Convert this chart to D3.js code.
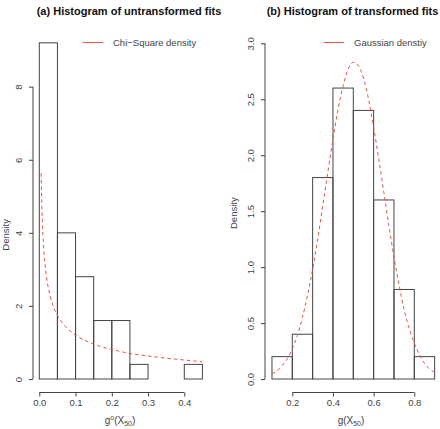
<!DOCTYPE html>
<html>
<head>
<meta charset="utf-8">
<script src="https://cdn.jsdelivr.net/npm/d3@7"></script>
<style>
  body { margin: 0; background: #fff; }
  text { font-family: "Liberation Sans", Arial, sans-serif; }
</style>
</head>
<body>
<script>
const width = 440
const height = 429

// (a) untransformed fits, bin width 0.05
const binsA = [0, 0.05, 0.10, 0.15, 0.20, 0.25, 0.30, 0.35, 0.40, 0.45]
const densA = [9.2, 4.0, 2.8, 1.6, 1.6, 0.4, 0, 0, 0.4]
const curveAx = [0.005, 0.0075, 0.01, 0.015, 0.02, 0.03, 0.04, 0.05, 0.07, 0.10, 0.13, 0.16, 0.20, 0.25, 0.30, 0.35, 0.40, 0.45]
const curveAy = [5.63, 4.59, 3.97, 3.23, 2.79, 2.27, 1.95, 1.74, 1.46, 1.20, 1.04, 0.92, 0.81, 0.70, 0.63, 0.57, 0.52, 0.47]
const ticksAx = [0, 0.1, 0.2, 0.3, 0.4]
const ticksAy = [0, 2, 4, 6, 8]

// (b) transformed fits, bin width 0.1
const binsB = [0.1, 0.2, 0.3, 0.4, 0.5, 0.6, 0.7, 0.8, 0.9]
const densB = [0.2, 0.4, 1.8, 2.6, 2.4, 1.6, 0.8, 0.2]
const curveBx = [0.100, 0.125, 0.150, 0.175, 0.200, 0.225, 0.250, 0.275, 0.300, 0.325, 0.350, 0.375, 0.400, 0.425, 0.450, 0.475, 0.500,
                 0.525, 0.550, 0.575, 0.600, 0.625, 0.650, 0.675, 0.700, 0.725, 0.750, 0.775, 0.800, 0.825, 0.850, 0.875, 0.900]
const curveBy = [0.05, 0.07, 0.12, 0.18, 0.27, 0.39, 0.55, 0.75, 0.98, 1.25, 1.55, 1.85, 2.14, 2.41, 2.62, 2.77, 2.83,
                 2.80, 2.69, 2.50, 2.25, 1.97, 1.67, 1.37, 1.09, 0.84, 0.62, 0.45, 0.32, 0.22, 0.14, 0.09, 0.06]
const ticksBx = [0.2, 0.4, 0.6, 0.8]
const ticksBy = [0, 0.5, 1, 1.5, 2, 2.5, 3]

const ink = "#444"
const red = "#e0574a"

const svg = d3.select("body").append("svg")
  .attr("width", width)
  .attr("height", height)

function panel(o) {
  const g = svg.append("g")
  const x = d3.scaleLinear().domain(o.xd).range(o.xr)
  const y = d3.scaleLinear().domain(o.yd).range(o.yr)

  // bars
  g.append("g")
    .selectAll("rect")
    .data(o.dens)
    .join("rect")
      .attr("x", (d, i) => x(o.bins[i]))
      .attr("y", d => y(d))
      .attr("width", (d, i) => x(o.bins[i + 1]) - x(o.bins[i]))
      .attr("height", d => y(0) - y(d))
      .attr("fill", "none")
      .attr("stroke", ink)
      .attr("stroke-width", 1)

  // density curve
  const line = d3.line()
    .x(d => x(d[0]))
    .y(d => y(d[1]))
    .curve(d3.curveMonotoneX)
  g.append("path")
    .datum(o.cx.map((v, i) => [v, o.cy[i]]))
    .attr("d", line)
    .attr("fill", "none")
    .attr("stroke", red)
    .attr("stroke-width", 1)
    .attr("stroke-dasharray", "3.5,3")

  // x axis
  const xa = g.append("g")
    .attr("transform", `translate(0,${o.xaxisY})`)
    .call(d3.axisBottom(x).tickValues(o.tx).tickSize(4).tickPadding(3).tickFormat(d3.format(".1f")))
  xa.select(".domain").attr("d", `M${x(o.tx[0])},0H${x(o.tx[o.tx.length - 1])}`)

  // y axis
  const ya = g.append("g")
    .attr("transform", `translate(${o.yaxisX},0)`)
    .call(d3.axisLeft(y).tickValues(o.ty).tickSize(4).tickFormat(o.yfmt))
  ya.select(".domain").attr("d", `M0,${y(o.ty[0])}V${y(o.ty[o.ty.length - 1])}`)
  ya.selectAll(".tick text")
    .attr("x", null).attr("dy", null)
    .attr("text-anchor", "middle")
    .attr("transform", "translate(-11,0) rotate(-90)")

  for (const a of [xa, ya]) {
    a.selectAll(".domain, .tick line").attr("stroke", ink)
    a.selectAll(".tick text")
      .attr("fill", ink)
      .style("font-size", "9.5px")
      .style("font-family", "Liberation Sans, Arial, sans-serif")
  }

  // axis titles
  g.append("text")
    .attr("transform", `translate(${Math.max(o.yaxisX - 28, 9)},${(y(o.ty[0]) + y(o.ty[o.ty.length - 1])) / 2 + 2}) rotate(-90)`)
    .attr("text-anchor", "middle")
    .attr("fill", ink)
    .style("font-size", "9.5px")
    .text("Density")

  const xl = g.append("text")
    .attr("x", o.xlabX)
    .attr("y", 424)
    .attr("text-anchor", "middle")
    .attr("fill", ink)
    .style("font-size", "10px")
  xl.append("tspan").text("g")
  if (o.sup) xl.append("tspan").attr("dy", -4).style("font-size", "7px").text("o")
  xl.append("tspan").attr("dy", o.sup ? 4 : 0).text("(X")
  xl.append("tspan").attr("dy", 2).style("font-size", "7px").text("50")
  xl.append("tspan").attr("dy", -2).text(")")

  // title
  svg.append("text")
    .attr("x", o.titleX)
    .attr("y", 15)
    .attr("text-anchor", "middle")
    .attr("fill", "#111")
    .style("font-size", "11px")
    .style("font-weight", "bold")
    .text(o.title)

  // legend
  g.append("line")
    .attr("x1", o.legX).attr("x2", o.legX + 20)
    .attr("y1", 42.5).attr("y2", 42.5)
    .attr("stroke", red)
    .attr("stroke-width", 1)
  g.append("text")
    .attr("x", o.legX + 30)
    .attr("y", 46)
    .attr("fill", ink)
    .style("font-size", "9.5px")
    .text(o.legend)
}

panel({
  bins: binsA, dens: densA, cx: curveAx, cy: curveAy, tx: ticksAx, ty: ticksAy,
  xd: [0, 0.4], xr: [39.3, 184.3], yd: [0, 8], yr: [379, 86.7],
  xaxisY: 392.5, yaxisX: 33, yfmt: d3.format("d"),
  xlabX: 120, sup: true,
  titleX: 129, title: "(a) Histogram of untransformed fits",
  legX: 83, legend: "Chi\u2212Square density"
})

panel({
  bins: binsB, dens: densB, cx: curveBx, cy: curveBy, tx: ticksBx, ty: ticksBy,
  xd: [0.2, 0.8], xr: [292.3, 414.3], yd: [0, 3], yr: [379, 43.3],
  xaxisY: 392.5, yaxisX: 265, yfmt: d3.format(".1f"),
  xlabX: 351, sup: false,
  titleX: 352.5, title: "(b) Histogram of transformed fits",
  legX: 324, legend: "Gaussian denstiy"
})
</script>
</body>
</html>
